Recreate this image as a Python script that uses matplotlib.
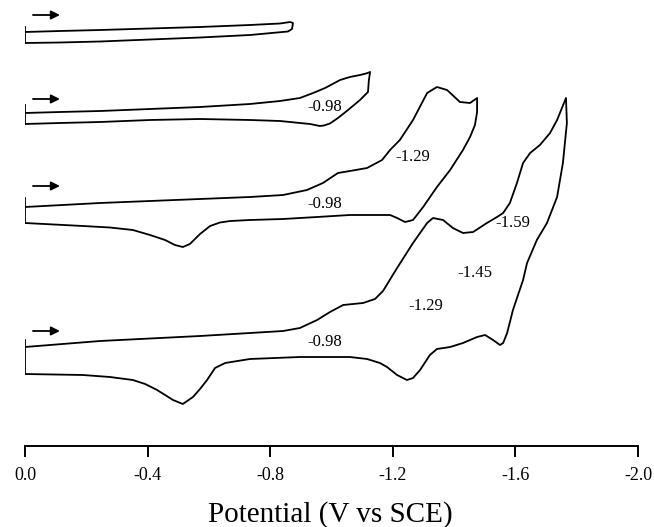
import numpy as np
import matplotlib
matplotlib.use('Agg')
import matplotlib.pyplot as plt

plt.rcParams['font.family'] = ['Liberation Serif', 'DejaVu Serif']

# potentials (V vs SCE) and currents (arb. units, relative to the start of each scan)
# trace 1: scan to -0.87 V
e1_fwd = [0.0, -0.114, -0.245, -0.408, -0.571, -0.734, -0.832, -0.865, -0.874]
i1_fwd = [0, 1, 2, 3.5, 5, 7, 8.5, 10, 9]
e1_rev = [-0.874, -0.871, -0.858, -0.734, -0.571, -0.408, -0.245, -0.114, 0.0]
i1_rev = [8, 3, 0.5, -3, -5.5, -7.5, -9.5, -10.5, -11]

# trace 2: scan to -1.13 V
e2_fwd = [0.0, -0.114, -0.245, -0.408, -0.571, -0.734, -0.832, -0.897, -0.940,
          -0.979, -1.028, -1.060, -1.093, -1.113, -1.126]
i2_fwd = [0, 1, 2, 4, 6, 9, 12, 15, 20, 25, 33, 36, 38, 39.5, 41]
e2_rev = [-1.126, -1.122, -1.119, -1.093, -1.054, -1.021, -0.995, -0.975, -0.962,
          -0.930, -0.832, -0.734, -0.571, -0.408, -0.245, -0.114, 0.0]
i2_rev = [41, 33, 21, 13, 3, -5, -10.5, -12.5, -13, -11, -8, -7, -6, -7, -9, -10, -11]

# trace 3: scan to -1.47 V
e3_fwd = [0.0, -0.245, -0.571, -0.734, -0.842, -0.920, -0.972, -1.021, -1.060,
          -1.116, -1.165, -1.191, -1.223, -1.266, -1.312, -1.344, -1.377, -1.419,
          -1.452, -1.475]
i3_fwd = [0, 4, 8, 10, 12, 17, 24, 34, 36, 39, 47, 57, 67, 87, 114, 120, 117, 105,
          104, 109]
e3_rev = [-1.475, -1.475, -1.468, -1.452, -1.429, -1.387, -1.344, -1.299, -1.266,
          -1.240, -1.214, -1.191, -1.060, -0.953, -0.842, -0.734, -0.670, -0.636,
          -0.604, -0.571, -0.538, -0.515, -0.489, -0.457, -0.408, -0.352, -0.277,
          -0.189, 0.0]
i3_rev = [109, 95, 82, 70, 57, 37, 20, 0, -13, -15, -11, -8, -8, -10, -12, -13,
          -14, -15.5, -19, -27, -37, -40, -38, -33, -28, -23, -20.5, -19, -16]

# trace 4: scan to -1.77 V
e4_fwd = [0.0, -0.245, -0.571, -0.734, -0.842, -0.897, -0.953, -0.995, -1.038,
          -1.103, -1.142, -1.168, -1.214, -1.266, -1.312, -1.331, -1.364, -1.396,
          -1.429, -1.462, -1.507, -1.540, -1.560, -1.582, -1.605, -1.625, -1.648,
          -1.680, -1.713, -1.736, -1.765]
i4_fwd = [0, 6, 11, 14, 16, 19, 27, 35, 42, 44, 48, 56, 79, 104, 124, 129, 127,
          119, 114, 115, 124, 130, 134, 144, 164, 184, 194, 202, 214, 227, 249]
e4_rev = [-1.765, -1.768, -1.755, -1.736, -1.703, -1.670, -1.638, -1.625, -1.592,
          -1.573, -1.560, -1.550, -1.527, -1.501, -1.475, -1.429, -1.387, -1.344,
          -1.321, -1.289, -1.266, -1.246, -1.214, -1.181, -1.158, -1.116, -1.060,
          -0.897, -0.734, -0.653, -0.620, -0.594, -0.571, -0.548, -0.515, -0.483,
          -0.431, -0.392, -0.352, -0.277, -0.189, 0.0]
i4_rev = [249, 224, 184, 150, 124, 107, 84, 67, 37, 14, 4, 2, 7, 12, 10, 4, 0, -2,
          -8, -23, -31, -33, -28, -20, -16, -12, -10, -10, -12, -16, -21, -33, -42,
          -50, -57, -53, -43, -37, -33, -30, -28, -27]

# vertical offsets of the stacked traces and the little start bars
offsets = [414, 333, 239, 99]
start_bar = [(5, -11), (8, -11), (9, -16), (7, -27)]
arrow_rise = [17, 14, 21, 16]
arrow_e = (-0.026, -0.114)

peak_labels = [
    ('-0.98', -0.979, 339),
    ('-1.29', -1.266, 289),
    ('-0.98', -0.979, 242),
    ('-1.59', -1.592, 223),
    ('-1.45', -1.468, 173),
    ('-1.29', -1.308, 140),
    ('-0.98', -0.979, 104),
]

traces = [(e1_fwd, i1_fwd, e1_rev, i1_rev),
          (e2_fwd, i2_fwd, e2_rev, i2_rev),
          (e3_fwd, i3_fwd, e3_rev, i3_rev),
          (e4_fwd, i4_fwd, e4_rev, i4_rev)]

fig = plt.figure(figsize=(6.54, 5.27), dpi=100)
ax = fig.add_axes([25 / 654, 81 / 527, 613 / 654, 446 / 527])

lw = 1.3
for k, (ef, cf, er, cr) in enumerate(traces):
    off = offsets[k]
    e = np.concatenate([ef, er])
    c = np.concatenate([cf, cr]) + off
    ax.plot(e, c, color='black', lw=lw, solid_joinstyle='round')
    top, bot = start_bar[k]
    ax.plot([0, 0], [top + off, bot + off], color='black', lw=lw)
    ya = arrow_rise[k] + off
    ax.annotate('', xy=(arrow_e[1], ya), xytext=(arrow_e[0], ya),
                arrowprops=dict(arrowstyle='-|>', color='black', lw=lw,
                                mutation_scale=13, shrinkA=0, shrinkB=0))

for txt, e, y in peak_labels:
    ax.text(e, y, txt, ha='center', va='center', fontsize=12)

ax.set_xlim(0, -2.0)
ax.set_ylim(0, 446)
ax.set_xticks([0.0, -0.4, -0.8, -1.2, -1.6, -2.0])
ax.set_xticklabels(['0.0', '-0.4', '-0.8', '-1.2', '-1.6', '-2.0'])
ax.set_yticks([])
for s in ['left', 'right', 'top']:
    ax.spines[s].set_visible(False)
ax.spines['bottom'].set_linewidth(1.4)
ax.tick_params(axis='x', direction='out', length=8, width=1.4, pad=7, labelsize=13)
ax.patch.set_visible(False)

fig.text(330 / 654, 1 - 515 / 527, 'Potential (V vs SCE)', ha='center', va='center',
         fontsize=21)

fig.savefig('out.png', dpi=100)
